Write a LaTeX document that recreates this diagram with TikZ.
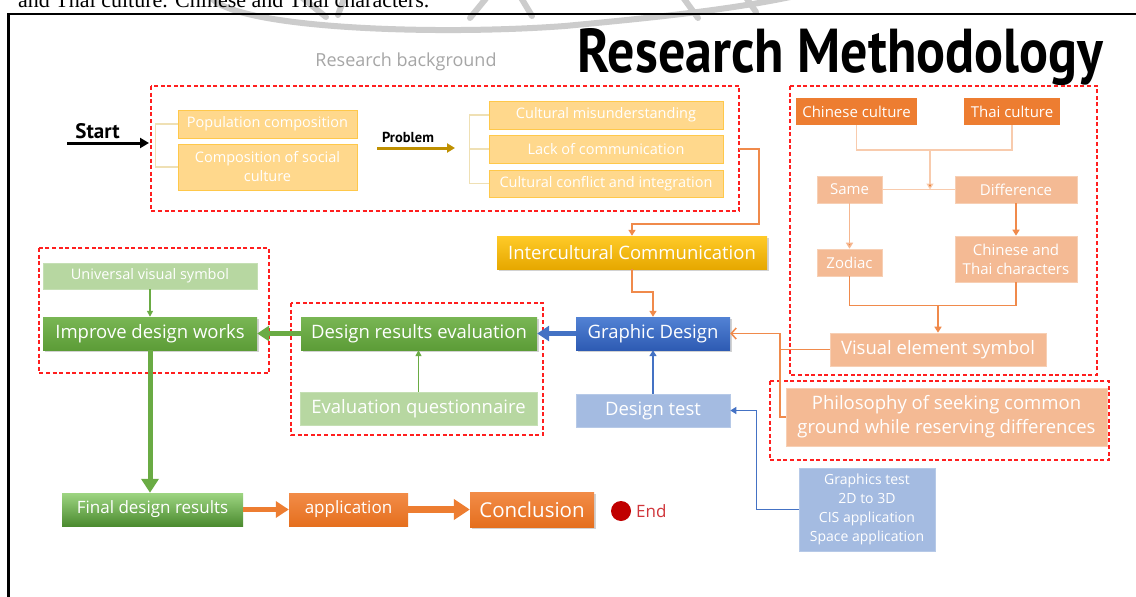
\documentclass[tikz,border=0pt]{standalone}
\usepackage{fontspec}
\setmainfont{Open Sans}
\newfontfamily\headfont{PT Sans}
\newfontfamily\bodyserif{Liberation Serif}
\usetikzlibrary{arrows.meta,shadows}

\definecolor{regionRed}{HTML}{FF1F1F}
\definecolor{yelFill}{HTML}{FFD88C}
\definecolor{yelLine}{HTML}{FFC84A}
\definecolor{tanLine}{HTML}{EFE0B4}
\definecolor{goldArrow}{HTML}{BF9000}
\definecolor{orangeMain}{HTML}{ED7D31}
\definecolor{orangeLine}{HTML}{F08A4B}
\definecolor{peachLine}{HTML}{F8CBAD}
\definecolor{salmon}{HTML}{F4BA94}
\definecolor{lightBlue}{HTML}{A4BBE1}
\definecolor{blueMain}{HTML}{4472C4}
\definecolor{lightGreen}{HTML}{B7D7A1}
\definecolor{greenMain}{HTML}{6AAB44}
\definecolor{greyText}{HTML}{A6A6A6}
\definecolor{endRed}{HTML}{C00000}
\definecolor{endText}{HTML}{D0353A}
\definecolor{greenTop}{HTML}{79B654}
\definecolor{greenBot}{HTML}{5C9C37}

\tikzset{
  box/.style={rectangle, inner sep=0pt, text=white, align=center,
    font=\fontsize{18.5}{22}\selectfont},
  small/.style={font=\fontsize{14.5}{19}\selectfont},
  ybox/.style={box, small, fill=yelFill, draw=yelLine, line width=0.8pt},
  obox/.style={box, fill=orangeMain, font=\fontsize{15}{19}\selectfont},
  sbox/.style={box, fill=salmon, draw=salmon!70!white, line width=0.6pt},
  mid/.style={font=\fontsize{15}{19}\selectfont},
  lbbox/.style={box, fill=lightBlue, draw=lightBlue!80!white, line width=0.6pt},
  lgbox/.style={box, fill=lightGreen, draw=lightGreen!80!white, line width=0.6pt},
  shade/.style={drop shadow={opacity=0.35, shadow xshift=1.5pt, shadow yshift=-2pt}},
  gbox/.style={box, shade, top color=greenTop, bottom color=greenBot},
  region/.style={draw=regionRed, dash pattern=on 4pt off 2.6pt, line width=1.4pt},
  bracket/.style={draw=tanLine, line width=1.6pt},
  oline/.style={draw=orangeLine, line width=1.5pt},
  plline/.style={draw=peachLine, line width=1.5pt},
  oarrow/.style={oline, -{Triangle[length=6pt,width=7pt]}},
  fat/.style={line width=5pt, -{Triangle[length=12pt,width=15pt]}},
}

\begin{document}
\begin{tikzpicture}[x=1pt, y=-1pt]
\useasboundingbox (0,0) rectangle (1136,597);
\clip (0,0) rectangle (1136,597);
\fill[white] (0,0) rectangle (1136,597);

% faint seal watermark at the top edge
\begin{scope}[draw=black!20, line width=6pt, line cap=round]
  \draw (210,-4) .. controls (230,28) and (430,36) .. (565,26)
        .. controls (650,18) and (730,10) .. (795,-4);
  \draw (300,-4) -- (326,17);
  \draw (345,-4) -- (338,15);
  \draw (488,-4) -- (470,18);
  \draw (520,-4) -- (532,16);
  \draw (682,-4) -- (698,18);
  \draw (745,-4) -- (756,12);
\end{scope}

% line of body text above the frame, cut by the page edge
\node[anchor=base west, inner sep=0pt, font=\bodyserif\fontsize{22}{24}\selectfont]
  (bodyline) at (18,8) {and Thai culture. Chinese and Thai characters.};

% frame
\draw[line width=2.6pt] (8.5,620) -- (8.5,14) -- (1160,14);

% title and headings
\node[anchor=base, inner sep=0pt] (title) at (840.5,72)
  {\resizebox{525pt}{44pt}{\headfont\bfseries Research Methodology}};
\node[text=greyText, font=\fontsize{18}{22}\selectfont, inner sep=0pt] (bghead) at (406,62) {Research background};

% dashed regions
\draw[region] (151,86) rectangle (739,211);
\draw[region] (291,303) rectangle (543,435);
\draw[region] (39,248) rectangle (269,373);
\draw[region] (790,86) rectangle (1097,375);
\draw[region] (770,381) rectangle (1109,460);

% research background
\node[font=\headfont\bfseries\fontsize{21}{24}\selectfont, inner sep=0pt] (start) at (97.5,131) {Start};
\coordinate (startA) at (67,143);
\coordinate (startB) at (149,143);
\draw[line width=3pt, -{Triangle[length=9pt,width=10pt]}] (startA) -- (startB);

\node[ybox, minimum width=179pt, minimum height=28pt] (pop) at (267.5,124) {Population composition};
\node[ybox, minimum width=179pt, minimum height=46pt] (soc) at (267.5,167) {Composition of social\\culture};
\draw[bracket] (pop.west) -- ++(-22,0) |- (soc.west);

\node[font=\headfont\bfseries\fontsize{14.5}{16}\selectfont, inner sep=0pt] (prob) at (408,137) {Problem};
\coordinate (probA) at (377,148);
\coordinate (probB) at (455,148);
\draw[draw=goldArrow, line width=3pt, -{Triangle[length=8pt,width=9pt]}] (probA) -- (probB);

\node[ybox, minimum width=234pt, minimum height=28pt] (mis) at (606,115) {Cultural misunderstanding};
\node[ybox, minimum width=234pt, minimum height=28pt] (lack) at (606,149) {Lack of communication};
\node[ybox, minimum width=234pt, minimum height=27pt] (conf) at (606,183.5) {Cultural conflict and integration};
\draw[bracket] (mis.west) -- ++(-19,0) |- (conf.west);
\draw[bracket] (lack.west) -- ++(-19,0);

% central column
\node[box, shade, top color={rgb,255:red,255;green,202;blue,40}, bottom color={rgb,255:red,230;green,168;blue,0},
      minimum width=270pt, minimum height=33pt] (inter) at (632,252.5) {Intercultural Communication};
\coordinate (bgOut) at (739,149);
\draw[oarrow] (bgOut) -| ++(20,75) -| (inter.north);

\node[box, shade, top color={rgb,255:red,82;green,130;blue,212}, bottom color={rgb,255:red,46;green,91;blue,179},
      minimum width=154pt, minimum height=33pt] (gd) at (653,333.5) {Graphic Design};
\draw[oarrow] (inter.south) -- ++(0,23) -| (gd.north);

\node[lbbox, minimum width=154pt, minimum height=33pt] (dt) at (653,410.5) {Design test};
\draw[draw=blueMain, line width=1.8pt, -{Triangle[length=6pt,width=7pt]}] (dt.north) -- (gd.south);

\node[gbox, minimum width=236pt, minimum height=33pt] (dre) at (419,333.5) {Design results evaluation};
\draw[draw=blueMain, fat] (gd.west) -- (dre.east);

\node[lgbox, minimum width=237pt, minimum height=33pt] (eq) at (418.5,408.5) {Evaluation questionnaire};
\draw[draw=greenMain, line width=1.4pt, -{Triangle[length=6pt,width=6pt]}] (eq.north) -- (eq.north |- dre.south);

\node[lgbox, small, minimum width=214pt, minimum height=26pt] (uvs) at (150,276) {Universal visual symbol};
\node[gbox, minimum width=214pt, minimum height=33pt] (idw) at (150,333.5) {Improve design works};
\draw[draw=greenMain, line width=1.4pt, -{Triangle[length=6pt,width=6pt]}] (uvs.south) -- (idw.north);
\draw[draw=greenMain, fat] (dre.west) -- (idw.east);

% bottom row
\node[box, top color={rgb,255:red,158;green,213;blue,130}, bottom color={rgb,255:red,75;green,139;blue,47},
      font=\fontsize{17}{20}\selectfont, minimum width=181pt, minimum height=33pt] (fdr) at (152.5,509.5) {Final design results};
\draw[draw=greenMain, line width=5pt, -{Triangle[length=14pt,width=17pt]}] (idw.south) -- (idw.south |- fdr.north);

\node[box, top color={rgb,255:red,242;green,140;blue,72}, bottom color={rgb,255:red,229;green,111;blue,30},
      font=\fontsize{17}{20}\selectfont, minimum width=119pt, minimum height=33pt] (app) at (348.5,509.5) {application};
\draw[draw=orangeMain, line width=5pt, -{Triangle[length=13pt,width=16pt]}] (fdr.east) -- (app.west);

\node[box, shade, top color={rgb,255:red,242;green,140;blue,72}, bottom color={rgb,255:red,229;green,111;blue,30},
      font=\fontsize{20.5}{24}\selectfont, minimum width=124pt, minimum height=35pt] (conc) at (532,509.5) {Conclusion};
\draw[draw=orangeMain, line width=7pt, -{Triangle[length=16pt,width=20pt]}] (app.east) -- (conc.west);

\node[circle, fill=endRed, minimum size=20pt, inner sep=0pt] (endc) at (621,511) {};
\node[text=endText, font=\fontsize{17}{20}\selectfont, inner sep=0pt, anchor=west] (endt) at (636,511) {End};

% cultural comparison
\node[obox, minimum width=121pt, minimum height=27pt] (cc) at (856.5,111.5) {Chinese culture};
\node[obox, minimum width=96pt, minimum height=27pt] (tc) at (1012,111.5) {Thai culture};
\draw[plline] (cc.south) -- ++(0,25) -| (tc.south);
\coordinate (ctJoin) at (930,150);

\node[sbox, mid, minimum width=65pt, minimum height=27pt] (same) at (849.5,189.5) {Same};
\node[sbox, mid, minimum width=122pt, minimum height=27pt] (diff) at (1016,189.5) {Difference};
\draw[plline] (same.east) -- (diff.west);
\draw[draw=peachLine, line width=1.2pt, -{Triangle[length=6pt,width=7pt, fill=orangeMain]}] (ctJoin) -- (ctJoin |- same.east);

\node[sbox, mid, minimum width=65pt, minimum height=27pt] (zod) at (849.5,262.5) {Zodiac};
\node[sbox, mid, minimum width=122pt, minimum height=46pt] (ctc) at (1016,259) {Chinese and\\Thai characters};
\draw[draw=peachLine!70!orangeLine, line width=1.5pt, -{Triangle[length=6pt,width=7pt, fill=orangeMain]}] (same.south) -- (zod.north);
\draw[oarrow] (diff.south) -- (ctc.north);

\node[sbox, minimum width=216pt, minimum height=33pt] (ves) at (938,349.5) {Visual element symbol};
\draw[oline] (zod.south) -- ++(0,29) -| (ctc.south);
\draw[oarrow] (ves.north |- 0,305.5) -- (ves.north);

\node[sbox, minimum width=321pt, minimum height=58pt, font=\fontsize{18.5}{24}\selectfont] (phil) at (946.5,417)
  {Philosophy of seeking common\\ground while reserving differences};
\coordinate (bendX) at (780,417);
\draw[oline, -{Straight Barb[length=5pt,width=11pt]}] (phil.west) -- (bendX) |- (gd.east);
\draw[oline] (ves.west) -- (bendX |- ves.west);

% test contents
\node[lbbox, minimum width=136pt, minimum height=83pt, font=\fontsize{14}{19}\selectfont] (gt) at (867,509.5)
  {Graphics test\\2D to 3D\\CIS application\\Space application};
\draw[draw=blueMain, line width=1.3pt, -{Triangle[length=6pt,width=7pt]}] (gt.west) -- ++(-42,0) |- (dt.east);

\end{tikzpicture}
\end{document}
